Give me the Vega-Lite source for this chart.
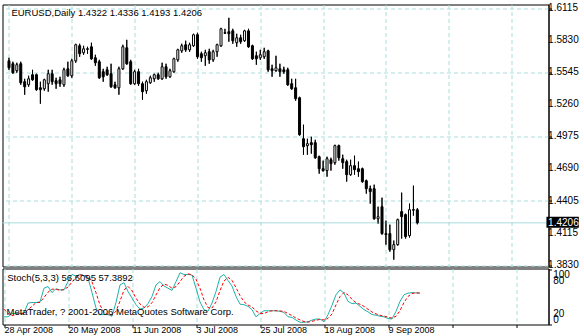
{
  "$schema": "https://vega.github.io/schema/vega-lite/v6.json",
  "padding": {"left": 1.5, "top": 2.5, "right": 0, "bottom": 0},
  "background": "white",
  "spacing": 2,
  "bounds": "flush",
  "config": {
    "view": {"stroke": "black", "strokeWidth": 1},
    "font": "Liberation Sans",
    "axis": {"labelFont": "Liberation Sans", "labelFontSize": 10, "labelColor": "black", "title": null, "labelOverlap": false,
             "gridColor": "#aadcdc", "gridDash": [4, 3], "tickColor": "black", "domainColor": "black", "tickSize": 3}
  },
  "datasets": {
    "bars": [
      {"i":0,"o":1.5649,"h":1.5676,"l":1.5569,"c":1.5587,"k":14,"d":28},
      {"i":1,"o":1.5623,"h":1.5641,"l":1.5534,"c":1.5543,"k":14,"d":20},
      {"i":2,"o":1.5561,"h":1.5632,"l":1.5543,"c":1.5614,"k":20,"d":16},
      {"i":3,"o":1.5623,"h":1.5641,"l":1.5436,"c":1.5454,"k":20,"d":18},
      {"i":4,"o":1.5463,"h":1.5489,"l":1.5347,"c":1.5418,"k":20,"d":20},
      {"i":5,"o":1.5436,"h":1.5516,"l":1.5418,"c":1.5489,"k":21,"d":20.3},
      {"i":6,"o":1.5525,"h":1.5569,"l":1.5472,"c":1.5480,"k":39,"d":26.7},
      {"i":7,"o":1.5525,"h":1.5534,"l":1.5383,"c":1.5392,"k":40,"d":33.3},
      {"i":8,"o":1.5409,"h":1.5463,"l":1.5267,"c":1.5392,"k":40,"d":39.7},
      {"i":9,"o":1.5400,"h":1.5489,"l":1.5383,"c":1.5480,"k":41,"d":40.3},
      {"i":10,"o":1.5445,"h":1.5569,"l":1.5374,"c":1.5534,"k":66,"d":49},
      {"i":11,"o":1.5534,"h":1.5569,"l":1.5436,"c":1.5463,"k":69,"d":58.7},
      {"i":12,"o":1.5472,"h":1.5498,"l":1.5400,"c":1.5445,"k":58,"d":64.3},
      {"i":13,"o":1.5480,"h":1.5507,"l":1.5418,"c":1.5445,"k":65,"d":64},
      {"i":14,"o":1.5436,"h":1.5587,"l":1.5418,"c":1.5569,"k":63,"d":62},
      {"i":15,"o":1.5578,"h":1.5641,"l":1.5507,"c":1.5516,"k":63,"d":63.7},
      {"i":16,"o":1.5516,"h":1.5667,"l":1.5498,"c":1.5649,"k":78,"d":68},
      {"i":17,"o":1.5649,"h":1.5801,"l":1.5632,"c":1.5792,"k":91,"d":77.3},
      {"i":18,"o":1.5783,"h":1.5801,"l":1.5685,"c":1.5712,"k":88,"d":85.7},
      {"i":19,"o":1.5721,"h":1.5783,"l":1.5703,"c":1.5756,"k":91,"d":90},
      {"i":20,"o":1.5756,"h":1.5774,"l":1.5712,"c":1.5752,"k":89,"d":89.3},
      {"i":21,"o":1.5774,"h":1.5810,"l":1.5658,"c":1.5667,"k":85,"d":88.3},
      {"i":22,"o":1.5676,"h":1.5703,"l":1.5605,"c":1.5632,"k":58,"d":77.3},
      {"i":23,"o":1.5641,"h":1.5658,"l":1.5489,"c":1.5498,"k":30,"d":57.7},
      {"i":24,"o":1.5552,"h":1.5578,"l":1.5463,"c":1.5507,"k":18,"d":35.3},
      {"i":25,"o":1.5569,"h":1.5596,"l":1.5516,"c":1.5525,"k":18,"d":22},
      {"i":26,"o":1.5534,"h":1.5623,"l":1.5409,"c":1.5418,"k":18,"d":18},
      {"i":27,"o":1.5436,"h":1.5463,"l":1.5400,"c":1.5409,"k":15,"d":17},
      {"i":28,"o":1.5409,"h":1.5596,"l":1.5347,"c":1.5578,"k":40,"d":24.3},
      {"i":29,"o":1.5578,"h":1.5792,"l":1.5569,"c":1.5774,"k":72,"d":42.3},
      {"i":30,"o":1.5765,"h":1.5836,"l":1.5614,"c":1.5623,"k":76,"d":62.7},
      {"i":31,"o":1.5641,"h":1.5658,"l":1.5436,"c":1.5445,"k":60,"d":69.3},
      {"i":32,"o":1.5445,"h":1.5569,"l":1.5436,"c":1.5552,"k":48,"d":61.3},
      {"i":33,"o":1.5552,"h":1.5578,"l":1.5427,"c":1.5445,"k":36,"d":48},
      {"i":34,"o":1.5445,"h":1.5463,"l":1.5303,"c":1.5374,"k":28,"d":37.3},
      {"i":35,"o":1.5383,"h":1.5480,"l":1.5356,"c":1.5463,"k":30,"d":31.3},
      {"i":36,"o":1.5454,"h":1.5516,"l":1.5445,"c":1.5498,"k":38,"d":32},
      {"i":37,"o":1.5489,"h":1.5534,"l":1.5463,"c":1.5525,"k":51,"d":39.7},
      {"i":38,"o":1.5525,"h":1.5543,"l":1.5480,"c":1.5489,"k":72,"d":53.7},
      {"i":39,"o":1.5489,"h":1.5632,"l":1.5480,"c":1.5596,"k":78,"d":67},
      {"i":40,"o":1.5596,"h":1.5623,"l":1.5489,"c":1.5507,"k":70,"d":73.3},
      {"i":41,"o":1.5507,"h":1.5578,"l":1.5498,"c":1.5561,"k":66,"d":71.3},
      {"i":42,"o":1.5552,"h":1.5676,"l":1.5543,"c":1.5667,"k":62,"d":66},
      {"i":43,"o":1.5658,"h":1.5756,"l":1.5641,"c":1.5747,"k":78,"d":68.7},
      {"i":44,"o":1.5738,"h":1.5801,"l":1.5721,"c":1.5783,"k":94,"d":78},
      {"i":45,"o":1.5792,"h":1.5828,"l":1.5730,"c":1.5747,"k":91,"d":87.7},
      {"i":46,"o":1.5747,"h":1.5810,"l":1.5730,"c":1.5792,"k":91,"d":92},
      {"i":47,"o":1.5783,"h":1.5890,"l":1.5774,"c":1.5881,"k":90,"d":90.7},
      {"i":48,"o":1.5881,"h":1.5899,"l":1.5667,"c":1.5685,"k":66,"d":82.3},
      {"i":49,"o":1.5712,"h":1.5730,"l":1.5641,"c":1.5676,"k":41,"d":65.7},
      {"i":50,"o":1.5694,"h":1.5747,"l":1.5605,"c":1.5721,"k":27,"d":44.7},
      {"i":51,"o":1.5730,"h":1.5756,"l":1.5623,"c":1.5658,"k":24,"d":30.7},
      {"i":52,"o":1.5658,"h":1.5747,"l":1.5641,"c":1.5730,"k":39,"d":30},
      {"i":53,"o":1.5730,"h":1.5801,"l":1.5685,"c":1.5792,"k":60,"d":41},
      {"i":54,"o":1.5783,"h":1.5943,"l":1.5774,"c":1.5934,"k":86,"d":61.7},
      {"i":55,"o":1.5899,"h":1.5934,"l":1.5890,"c":1.5895,"k":91,"d":79},
      {"i":56,"o":1.5908,"h":1.6032,"l":1.5819,"c":1.5890,"k":80,"d":85.7},
      {"i":57,"o":1.5916,"h":1.5934,"l":1.5801,"c":1.5828,"k":70,"d":80.3},
      {"i":58,"o":1.5810,"h":1.5890,"l":1.5774,"c":1.5854,"k":51,"d":67},
      {"i":59,"o":1.5854,"h":1.5881,"l":1.5801,"c":1.5819,"k":37,"d":52.7},
      {"i":60,"o":1.5828,"h":1.5925,"l":1.5819,"c":1.5916,"k":36,"d":41.3},
      {"i":61,"o":1.5916,"h":1.5934,"l":1.5765,"c":1.5774,"k":33,"d":35.3},
      {"i":62,"o":1.5783,"h":1.5792,"l":1.5658,"c":1.5667,"k":27,"d":32},
      {"i":63,"o":1.5694,"h":1.5730,"l":1.5614,"c":1.5667,"k":14,"d":24.7},
      {"i":64,"o":1.5676,"h":1.5747,"l":1.5658,"c":1.5703,"k":20,"d":20.3},
      {"i":65,"o":1.5685,"h":1.5765,"l":1.5667,"c":1.5730,"k":25,"d":19.7},
      {"i":66,"o":1.5738,"h":1.5747,"l":1.5552,"c":1.5569,"k":25,"d":23.3},
      {"i":67,"o":1.5578,"h":1.5614,"l":1.5507,"c":1.5561,"k":25,"d":25},
      {"i":68,"o":1.5561,"h":1.5694,"l":1.5552,"c":1.5587,"k":25,"d":25},
      {"i":69,"o":1.5578,"h":1.5623,"l":1.5507,"c":1.5552,"k":24,"d":24.7},
      {"i":70,"o":1.5569,"h":1.5596,"l":1.5534,"c":1.5552,"k":22,"d":23.7},
      {"i":71,"o":1.5569,"h":1.5587,"l":1.5427,"c":1.5436,"k":14,"d":20},
      {"i":72,"o":1.5445,"h":1.5489,"l":1.5392,"c":1.5400,"k":13,"d":16.3},
      {"i":73,"o":1.5409,"h":1.5489,"l":1.5294,"c":1.5312,"k":8,"d":11.7},
      {"i":74,"o":1.5320,"h":1.5329,"l":1.4982,"c":1.4991,"k":4,"d":8.3},
      {"i":75,"o":1.4955,"h":1.5080,"l":1.4813,"c":1.4884,"k":4,"d":5.3},
      {"i":76,"o":1.4893,"h":1.4955,"l":1.4813,"c":1.4911,"k":5,"d":4.3},
      {"i":77,"o":1.4920,"h":1.4973,"l":1.4822,"c":1.4902,"k":8,"d":5.7},
      {"i":78,"o":1.4920,"h":1.4946,"l":1.4777,"c":1.4786,"k":10,"d":7.7},
      {"i":79,"o":1.4795,"h":1.4804,"l":1.4644,"c":1.4688,"k":10,"d":9.3},
      {"i":80,"o":1.4688,"h":1.4760,"l":1.4662,"c":1.4671,"k":5,"d":8.3},
      {"i":81,"o":1.4671,"h":1.4795,"l":1.4617,"c":1.4777,"k":18,"d":11},
      {"i":82,"o":1.4768,"h":1.4786,"l":1.4671,"c":1.4733,"k":35,"d":19.3},
      {"i":83,"o":1.4742,"h":1.4902,"l":1.4724,"c":1.4893,"k":54,"d":35.7},
      {"i":84,"o":1.4893,"h":1.4902,"l":1.4760,"c":1.4786,"k":63,"d":50.7},
      {"i":85,"o":1.4777,"h":1.4813,"l":1.4688,"c":1.4742,"k":57,"d":58},
      {"i":86,"o":1.4751,"h":1.4768,"l":1.4573,"c":1.4635,"k":42,"d":54},
      {"i":87,"o":1.4635,"h":1.4768,"l":1.4626,"c":1.4715,"k":38,"d":45.7},
      {"i":88,"o":1.4715,"h":1.4804,"l":1.4635,"c":1.4679,"k":39,"d":39.7},
      {"i":89,"o":1.4688,"h":1.4751,"l":1.4617,"c":1.4662,"k":33,"d":36.7},
      {"i":90,"o":1.4688,"h":1.4697,"l":1.4564,"c":1.4573,"k":27,"d":33},
      {"i":91,"o":1.4581,"h":1.4590,"l":1.4466,"c":1.4510,"k":23,"d":27.7},
      {"i":92,"o":1.4510,"h":1.4537,"l":1.4377,"c":1.4484,"k":18,"d":22.7},
      {"i":93,"o":1.4510,"h":1.4546,"l":1.4234,"c":1.4243,"k":17,"d":19.3},
      {"i":94,"o":1.4243,"h":1.4350,"l":1.4199,"c":1.4261,"k":15,"d":16.7},
      {"i":95,"o":1.4350,"h":1.4430,"l":1.4101,"c":1.4110,"k":14,"d":15.3},
      {"i":96,"o":1.4110,"h":1.4226,"l":1.4012,"c":1.4101,"k":11,"d":13.3},
      {"i":97,"o":1.4110,"h":1.4190,"l":1.3949,"c":1.3967,"k":10,"d":11.7},
      {"i":98,"o":1.3967,"h":1.4048,"l":1.3878,"c":1.4012,"k":24,"d":15},
      {"i":99,"o":1.4012,"h":1.4243,"l":1.4003,"c":1.4234,"k":42,"d":25.3},
      {"i":100,"o":1.4306,"h":1.4475,"l":1.4066,"c":1.4261,"k":54,"d":40},
      {"i":101,"o":1.4279,"h":1.4288,"l":1.4066,"c":1.4083,"k":57,"d":51},
      {"i":102,"o":1.4092,"h":1.4377,"l":1.4075,"c":1.4323,"k":58,"d":56.3},
      {"i":103,"o":1.4323,"h":1.4537,"l":1.4270,"c":1.4319,"k":57.5,"d":57.5},
      {"i":104,"o":1.4322,"h":1.4336,"l":1.4193,"c":1.4206,"k":56.6095,"d":57.3892}
    ],
    "labels": [
      {"panel":"main","t":"EURUSD,Daily  1.4322 1.4336 1.4193 1.4206"},
      {"panel":"price","t":"1.4206"},
      {"panel":"stoch","t":"Stoch(5,3,3) 56.6095 57.3892"},
      {"panel":"copy","t":"MetaTrader, ? 2001-2006 MetaQuotes Software Corp."}
    ],
    "priceTicks": [
      {"v":1.6115,"t":"1.6115"},{"v":1.5830,"t":"1.5830"},{"v":1.5545,"t":"1.5545"},
      {"v":1.5260,"t":"1.5260"},{"v":1.4975,"t":"1.4975"},{"v":1.4690,"t":"1.4690"},
      {"v":1.4405,"t":"1.4405"},{"v":1.4115,"t":"1.4115"},{"v":1.3830,"t":"1.3830"}
    ],
    "stochTicks": [
      {"v":100,"t":"100"},{"v":80,"t":"80"},{"v":20,"t":"20"},{"v":0,"t":"0"}
    ]
  },
  "vconcat": [
    {
      "width": 546,
      "height": 262,
      "layer": [
        {
          "data": {"name": "bars"},
          "mark": {"type": "rule", "color": "black", "strokeWidth": 1},
          "encoding": {
            "x": {"field": "i", "type": "quantitative",
                  "scale": {"domain": [-0.375, 136.125], "nice": false, "zero": false},
                  "axis": {"values": [0,8,16,24,32,40,48,56,64,72,80,88,96,104,112,120,128],
                           "grid": true, "labels": false, "ticks": false, "domain": false}},
            "y": {"field": "l", "type": "quantitative",
                  "scale": {"domain": [1.38172, 1.61506], "nice": false, "zero": false},
                  "axis": {"orient": "right",
                           "values": [1.383,1.4115,1.4405,1.469,1.4975,1.526,1.5545,1.583,1.6115],
                           "grid": true, "domain": true, "ticks": true, "labels": false}},
            "y2": {"field": "h"}
          }
        },
        {
          "data": {"values": [{"p": 1.4206}]},
          "mark": {"type": "rule", "color": "#aadcdc", "strokeWidth": 1},
          "encoding": {"y": {"field": "p", "type": "quantitative", "axis": {"orient": "right"}}}
        },
        {
          "data": {"name": "bars"},
          "mark": {"type": "rule", "color": "black", "strokeWidth": 1},
          "encoding": {
            "x": {"field": "i", "type": "quantitative"},
            "y": {"field": "l", "type": "quantitative", "axis": {"orient": "right"}},
            "y2": {"field": "h"}
          }
        },
        {
          "data": {"name": "bars"},
          "mark": {"type": "bar", "width": 2, "stroke": "black", "strokeWidth": 1},
          "encoding": {
            "x": {"field": "i", "type": "quantitative"},
            "y": {"field": "o", "type": "quantitative", "axis": {"orient": "right"}},
            "y2": {"field": "c"},
            "fill": {"condition": {"test": "datum.c >= datum.o", "value": "white"}, "value": "black"}
          }
        },
        {
          "data": {"name": "priceTicks"},
          "mark": {"type": "text", "align": "left", "baseline": "middle", "fontSize": 10, "color": "black"},
          "encoding": {
            "x": {"datum": 137.3, "type": "quantitative"},
            "y": {"field": "v", "type": "quantitative", "axis": {"orient": "right"}},
            "text": {"field": "t"}
          }
        },
        {
          "data": {"name": "labels"},
          "transform": [{"filter": "datum.panel == 'main'"}],
          "mark": {"type": "text", "align": "left", "baseline": "middle", "fontSize": 9.5, "color": "black"},
          "encoding": {
            "x": {"datum": 0.625, "type": "quantitative"},
            "y": {"datum": 1.6077, "type": "quantitative", "axis": {"orient": "right"}},
            "text": {"field": "t"}
          }
        },
        {
          "data": {"name": "labels"},
          "transform": [{"filter": "datum.panel == 'price'"}],
          "mark": {"type": "rect", "color": "black"},
          "encoding": {
            "x": {"datum": 136.875, "type": "quantitative"},
            "x2": {"datum": 145.125},
            "y": {"datum": 1.4260, "type": "quantitative", "axis": {"orient": "right"}},
            "y2": {"datum": 1.4162}
          }
        },
        {
          "data": {"name": "labels"},
          "transform": [{"filter": "datum.panel == 'price'"}],
          "mark": {"type": "text", "align": "left", "baseline": "middle", "fontSize": 10, "color": "white"},
          "encoding": {
            "x": {"datum": 137.3, "type": "quantitative"},
            "y": {"datum": 1.4206, "type": "quantitative", "axis": {"orient": "right"}},
            "text": {"field": "t"}
          }
        }
      ]
    },
    {
      "width": 546,
      "height": 56,
      "layer": [
        {
          "data": {"name": "bars"},
          "mark": {"type": "line", "color": "#20b2aa", "strokeWidth": 1},
          "encoding": {
            "x": {"field": "i", "type": "quantitative",
                  "scale": {"domain": [-0.375, 136.125], "nice": false, "zero": false},
                  "axis": {"values": [0,8,16,24,32,40,48,56,64,72,80,88,96,104,112,120,128],
                           "grid": true, "domain": false, "ticks": true,
                           "tickOpacity": {"condition": {"test": "datum.value % 16 != 0", "value": 0}, "value": 1},
                           "labelAlign": "left", "labelBaseline": "top", "labelPadding": -2, "labelFlush": false, "labelOverlap": false,
                           "labelFontSize": 9,
                           "labelExpr": "datum.value == 0 ? '28 Apr 2008' : datum.value == 16 ? '20 May 2008' : datum.value == 32 ? '11 Jun 2008' : datum.value == 48 ? '3 Jul 2008' : datum.value == 64 ? '25 Jul 2008' : datum.value == 80 ? '18 Aug 2008' : datum.value == 96 ? '9 Sep 2008' : ''"}},
            "y": {"field": "k", "type": "quantitative",
                  "scale": {"domain": [0, 101.82], "nice": false, "zero": false},
                  "axis": {"orient": "right", "values": [0, 20, 80, 100],
                           "grid": true, "gridColor": "#c0c0c0",
                           "gridOpacity": {"condition": {"test": "datum.value == 0 || datum.value == 100", "value": 0}, "value": 1},
                           "domain": true, "ticks": true, "labels": false}}
          }
        },
        {
          "data": {"name": "bars"},
          "mark": {"type": "line", "color": "red", "strokeWidth": 1, "strokeDash": [3, 2]},
          "encoding": {
            "x": {"field": "i", "type": "quantitative"},
            "y": {"field": "d", "type": "quantitative", "axis": {"orient": "right"}}
          }
        },
        {
          "data": {"name": "stochTicks"},
          "transform": [{"filter": "datum.v == 100"}],
          "mark": {"type": "text", "align": "left", "baseline": "top", "fontSize": 10, "color": "black"},
          "encoding": {
            "x": {"datum": 137.3, "type": "quantitative"},
            "y": {"field": "v", "type": "quantitative", "axis": {"orient": "right"}},
            "text": {"field": "t"}
          }
        },
        {
          "data": {"name": "stochTicks"},
          "transform": [{"filter": "datum.v == 80 || datum.v == 20"}],
          "mark": {"type": "text", "align": "left", "baseline": "middle", "fontSize": 10, "color": "black"},
          "encoding": {
            "x": {"datum": 137.3, "type": "quantitative"},
            "y": {"field": "v", "type": "quantitative", "axis": {"orient": "right"}},
            "text": {"field": "t"}
          }
        },
        {
          "data": {"name": "stochTicks"},
          "transform": [{"filter": "datum.v == 0"}],
          "mark": {"type": "text", "align": "left", "baseline": "bottom", "fontSize": 10, "color": "black"},
          "encoding": {
            "x": {"datum": 137.3, "type": "quantitative"},
            "y": {"field": "v", "type": "quantitative", "axis": {"orient": "right"}},
            "text": {"field": "t"}
          }
        },
        {
          "data": {"name": "labels"},
          "transform": [{"filter": "datum.panel == 'stoch'"}],
          "mark": {"type": "text", "align": "left", "baseline": "middle", "fontSize": 9.5, "color": "black"},
          "encoding": {
            "x": {"datum": 0.8, "type": "quantitative"},
            "y": {"datum": 84.2, "type": "quantitative", "axis": {"orient": "right"}},
            "text": {"field": "t"}
          }
        },
        {
          "data": {"name": "labels"},
          "transform": [{"filter": "datum.panel == 'copy'"}],
          "mark": {"type": "text", "align": "left", "baseline": "middle", "fontSize": 9.5, "color": "black"},
          "encoding": {
            "x": {"datum": 0.625, "type": "quantitative"},
            "y": {"datum": 23.1, "type": "quantitative", "axis": {"orient": "right"}},
            "text": {"field": "t"}
          }
        }
      ]
    }
  ]
}
